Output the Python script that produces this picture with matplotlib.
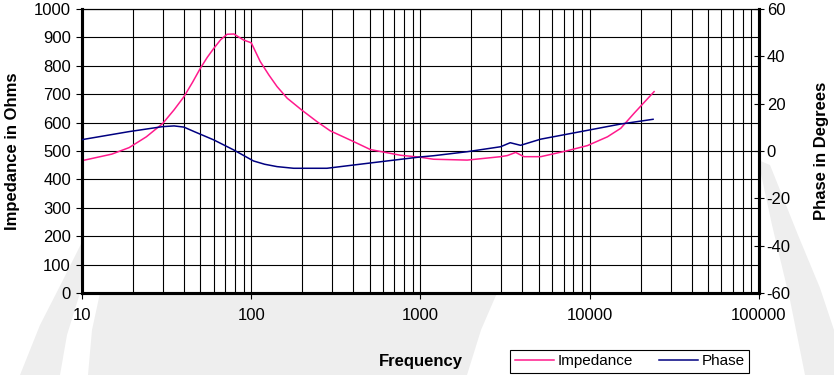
import matplotlib
matplotlib.use("Agg")
import matplotlib.pyplot as plt
from matplotlib.patches import Polygon
from matplotlib.ticker import FixedLocator, NullFormatter

plt.rcParams['font.family'] = ['Liberation Sans', 'DejaVu Sans']
plt.rcParams['axes.unicode_minus'] = False

# impedance curve (ohms)
freq_z = [10, 15, 19, 24, 30, 35, 40, 45, 50, 55, 60, 66, 72, 79, 85, 90, 100,
          113, 127, 142, 163, 199, 245, 293, 403, 506, 762, 1000, 1194, 1888,
          2973, 3260, 3650, 4085, 5129, 7374, 9683, 12726, 15250, 18290, 24000]
impedance = [466, 489, 512, 550, 597, 645, 691, 742, 791, 830, 861, 892, 911,
             912, 900, 891, 881, 815, 768, 727, 686, 644, 603, 571, 533, 505,
             485, 478, 471, 468, 480, 484, 495, 480, 480, 501, 519, 550, 580,
             633, 709]

# phase curve (degrees)
freq_p = [10, 19, 30, 35, 40, 46, 60, 79, 103, 120, 142, 178, 280, 487, 1000,
          1194, 1888, 2973, 3390, 3900, 5129, 8855, 15250, 23660]
phase = [4.8, 8.2, 10.3, 10.6, 10.1, 8.2, 4.7, 0.4, -4.2, -5.6, -6.6, -7.3,
         -7.3, -5.2, -2.5, -2.0, -0.3, 1.8, 3.5, 2.4, 5.0, 8.2, 11.4, 13.4]

z_ticks = list(range(0, 1001, 100))
p_ticks = list(range(-60, 61, 20))
f_ticks = [10, 100, 1000, 10000, 100000]

PINK = '#FF1A8C'
NAVY = '#000080'

fig = plt.figure(figsize=(8.34, 3.75), dpi=100)

# faint watermark behind the chart
bg = fig.add_axes([0, 0, 1, 1], zorder=-1)
bg.set_xlim(0, 834)
bg.set_ylim(375, 0)
bg.axis('off')
shade = '#eeeeee'
bg.add_patch(Polygon([(84, 238), (62, 282), (40, 325), (20, 375), (60, 375),
                      (67, 335), (80, 293)], closed=True, color=shade, lw=0))
bg.add_patch(Polygon([(100, 293), (92, 330), (88, 375), (467, 375),
                      (481, 330), (497, 293)], closed=True, color=shade, lw=0))
bg.add_patch(Polygon([(758, 160), (770, 165), (798, 235), (820, 288), (834, 330),
                      (834, 375), (805, 375), (790, 300), (772, 225)],
                     closed=True, color=shade, lw=0))

ax = fig.add_axes([82/834, 1 - 293/375, (759 - 82)/834, (293 - 9)/375])
ax.set_facecolor('white')
ax2 = ax.twinx()

ax.set_xscale('log')
ax.set_xlim(10, 100000)
ax.set_ylim(0, 1000)
ax2.set_ylim(-60, 60)

ax.plot(freq_z, impedance, color=PINK, lw=1.1, label='Impedance', zorder=3)
ax2.plot(freq_p, phase, color=NAVY, lw=1.1, label='Phase', zorder=3)

ax.xaxis.set_major_locator(FixedLocator(f_ticks))
ax.set_xticklabels([str(t) for t in f_ticks])
minors = [m * 10**d for d in range(1, 5) for m in range(2, 10)]
ax.xaxis.set_minor_locator(FixedLocator(minors))
ax.xaxis.set_minor_formatter(NullFormatter())
ax.set_yticks(z_ticks)
ax2.set_yticks(p_ticks)

ax.grid(True, which='both', axis='x', color='black', lw=0.8)
ax.grid(True, which='major', axis='y', color='black', lw=0.8)
ax.set_axisbelow(True)

for a in (ax, ax2):
    for side in ('left', 'bottom', 'right'):
        a.spines[side].set_linewidth(2.2)
    a.spines['top'].set_linewidth(0.8)

ax.tick_params(axis='both', which='major', direction='out', length=4,
               width=0.8, labelsize=12, pad=4)
ax.tick_params(axis='x', which='minor', length=0)
ax.tick_params(axis='x', which='major', pad=7)
ax2.tick_params(axis='y', direction='inout', length=7, width=0.8,
                labelsize=12, pad=2)

ax.set_ylabel('Impedance in Ohms', fontsize=12, fontweight='bold', labelpad=10)
ax2.set_ylabel('Phase in Degrees', fontsize=12, fontweight='bold', labelpad=17)
ax.set_xlabel('Frequency', fontsize=12, fontweight='bold', labelpad=22)

h1, l1 = ax.get_legend_handles_labels()
h2, l2 = ax2.get_legend_handles_labels()
leg = fig.legend(h1 + h2, l1 + l2, loc='lower left',
                 bbox_to_anchor=(510/834, 1 - 373/375), ncol=2, fontsize=11,
                 frameon=True, fancybox=False, framealpha=1, edgecolor='black',
                 handlelength=2.6, handletextpad=0.2, columnspacing=1.7,
                 borderpad=0.3, borderaxespad=0)
leg.get_frame().set_linewidth(0.8)

fig.savefig('out.png', dpi=100)
